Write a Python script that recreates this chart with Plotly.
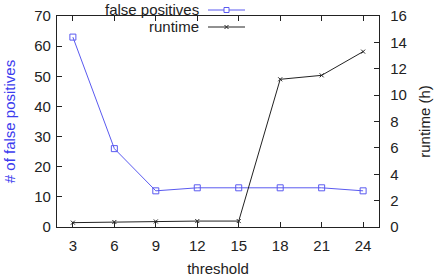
import plotly.graph_objects as go

threshold = [3, 6, 9, 12, 15, 18, 21, 24]
false_positives = [63, 26, 12, 13, 13, 13, 13, 12]
runtime_h = [0.33, 0.38, 0.42, 0.45, 0.45, 11.2, 11.5, 13.3]

BLUE_LINE = "#5a5af0"
BLUE_TEXT = "#3c3cee"
FONT = "Liberation Sans, Arial, sans-serif"
FS = 15

fig = go.Figure()
fig.add_trace(go.Scatter(
    x=threshold, y=false_positives, mode="lines+markers", name="false positives",
    line=dict(color=BLUE_LINE, width=1),
    marker=dict(symbol="square-open", size=6, color=BLUE_LINE, line=dict(width=1)),
    showlegend=False, yaxis="y"))
fig.add_trace(go.Scatter(
    x=threshold, y=runtime_h, mode="lines+markers", name="runtime",
    line=dict(color="#222222", width=1),
    marker=dict(symbol="x-thin-open", size=4, color="#222222", line=dict(width=1)),
    showlegend=False, yaxis="y2"))

axis_common = dict(showline=True, linecolor="#222222", linewidth=1.3, showgrid=False,
                   zeroline=False, ticks="inside", ticklen=5, tickcolor="#222222",
                   automargin=False,
                   tickfont=dict(family=FONT, size=FS, color="#222222"))

fig.update_layout(
    width=439, height=279,
    margin=dict(l=57, r=60, t=16, b=52),
    paper_bgcolor="white", plot_bgcolor="white",
    font=dict(family=FONT, size=FS, color="#222222"),
    xaxis=dict(range=[1.85, 25.15], tickvals=threshold, mirror="ticks",
               ticklabelstandoff=5,
               title=dict(text="threshold", standoff=10, font=dict(size=FS)),
               **axis_common),
    yaxis=dict(range=[0, 70], dtick=10, ticklabelstandoff=2,
               title=dict(text="# of false positives", font=dict(size=FS, color=BLUE_TEXT), standoff=14),
               **axis_common),
    yaxis2=dict(range=[0, 16], dtick=2, overlaying="y", side="right",
                ticklabelstandoff=7,
                title=dict(text="runtime (h)", font=dict(size=FS), standoff=13),
                **axis_common),
)

# manual gnuplot-style legend (text right-aligned, sample to the right)
legend_items = [("false positives", BLUE_LINE, "square"), ("runtime", "#222222", "x")]
x_text_end = 201
x_s0, x_s1 = 208, 245
def px(x):
    return (x - 57) / 322.0
for i, (label, col, sym) in enumerate(legend_items):
    yc = 10 + 17 * i
    yp = 1 - (yc - 16) / 211.0  # convert pixel to paper coords
    fig.add_annotation(x=px(x_text_end), y=yp, xref="paper", yref="paper",
                       text=label, showarrow=False, xanchor="right", yanchor="middle",
                       font=dict(family=FONT, size=FS, color="#222222"))
    fig.add_shape(type="line", xref="paper", yref="paper",
                  x0=px(x_s0), x1=px(x_s1), y0=yp, y1=yp,
                  line=dict(color=col, width=1))
    xm = px((x_s0 + x_s1) / 2)
    dx = 2.5 / 322.0
    dy = 2.5 / 211.0
    if sym == "square":
        fig.add_shape(type="rect", xref="paper", yref="paper",
                      x0=xm - dx, x1=xm + dx, y0=yp - dy, y1=yp + dy,
                      line=dict(color=col, width=1), fillcolor="white")
    else:
        dx2 = 2 / 322.0
        dy2 = 2 / 211.0
        fig.add_shape(type="line", xref="paper", yref="paper",
                      x0=xm - dx2, x1=xm + dx2, y0=yp - dy2, y1=yp + dy2,
                      line=dict(color=col, width=1))
        fig.add_shape(type="line", xref="paper", yref="paper",
                      x0=xm - dx2, x1=xm + dx2, y0=yp + dy2, y1=yp - dy2,
                      line=dict(color=col, width=1))

fig.write_html("out.html")
